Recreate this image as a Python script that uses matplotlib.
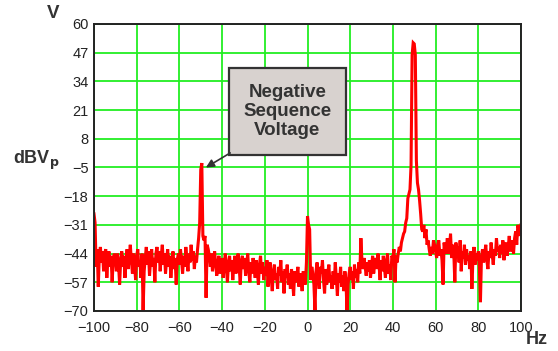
import numpy as np
import matplotlib
matplotlib.use("Agg")
import matplotlib.pyplot as plt
from matplotlib.patches import Rectangle

# Frequency axis: -100 .. 100 Hz in 0.5 Hz steps
freq_start, freq_stop, freq_step = -100.0, 100.0, 0.5

# Spectrum values (dBVp), 10 Hz per row
spectrum = [
    # -100 .. -90.5
    -26, -30, -50, -42, -59, -45, -41, -48, -43, -52, -44, -42, -55, -47, -43, -50, -45, -57, -47, -44,
    # -90 .. -80.5
    -46, -52, -44, -49, -58, -47, -43, -50, -45, -55, -48, -42, -51, -46, -40, -47, -53, -44, -49, -56,
    # -80 .. -70.5
    -45, -42, -50, -47, -55, -44, -70, -52, -46, -41, -49, -43, -54, -47, -42, -50, -46, -57, -44, -41,
    # -70 .. -60.5
    -48, -43, -52, -45, -40, -49, -44, -53, -47, -42, -50, -45, -55, -48, -43, -51, -46, -58, -47, -44,
    # -60 .. -50.5
    -49, -42, -47, -53, -45, -50, -41, -46, -52, -44, -48, -40, -47, -43, -51, -45, -48, -42, -37, -30,
    # -50 .. -40.5
    -6, -3, -36, -38, -36, -64, -40, -42, -45, -50, -44, -52, -47, -43, -49, -54, -48, -45, -53, -50,
    # -40 .. -30.5
    -46, -55, -49, -44, -51, -57, -48, -45, -52, -47, -56, -49, -45, -53, -48, -44, -50, -58, -47, -45,
    # -30 .. -20.5
    -51, -46, -54, -49, -44, -52, -57, -48, -53, -46, -50, -55, -47, -52, -58, -49, -45, -53, -48, -56,
    # -20 .. -10.5
    -50, -54, -47, -59, -51, -48, -55, -61, -52, -49, -56, -53, -60, -50, -54, -47, -57, -52, -62, -51,
    # -10 .. -0.5
    -55, -49, -58, -53, -60, -51, -56, -63, -52, -57, -54, -50, -59, -53, -56, -61, -52, -55, -58, -48,
    # 0 .. 9.5
    -27, -31, -33, -56, -50, -53, -58, -70, -52, -48, -55, -60, -50, -53, -47, -56, -62, -51, -58, -53,
    # 10 .. 19.5
    -49, -57, -54, -60, -52, -58, -48, -55, -63, -53, -57, -50, -59, -54, -61, -52, -56, -70, -58, -53,
    # 20 .. 29.5
    -50, -56, -52, -60, -49, -55, -51, -57, -48, -53, -37, -47, -51, -46, -50, -54, -48, -52, -47, -55,
    # 30 .. 39.5
    -50, -45, -53, -48, -46, -51, -44, -49, -56, -47, -52, -45, -50, -55, -47, -44, -53, -49, -56, -45,
    # 40 .. 49.5
    -46, -42, -57, -45, -48, -44, -41, -43, -39, -37, -35, -34, -30, -28, -19, -17, -15, -4, 46, 51.5,
    # 50 .. 59.5
    51, 46, -2, -12, -15, -20, -26, -33, -34, -31, -37, -33, -40, -38, -42, -45, -41, -44, -38, -40,
    # 60 .. 69.5
    -43, -46, -40, -38, -45, -42, -47, -58, -39, -44, -42, -37, -44, -41, -35, -46, -40, -43, -57, -39,
    # 70 .. 79.5
    -44, -41, -48, -38, -52, -43, -46, -40, -49, -42, -47, -45, -51, -43, -60, -46, -41, -49, -44, -47,
    # 80 .. 89.5
    -43, -50, -66, -45, -42, -48, -44, -40, -47, -51, -43, -46, -39, -44, -49, -42, -45, -37, -43, -41,
    # 90 .. 100
    -46, -40, -44, -38, -47, -42, -39, -45, -41, -36, -43, -40, -38, -44, -37, -34, -40, -31, -33, -36, -31,
]

freqs = np.arange(freq_start, freq_stop + freq_step / 2, freq_step)

x_ticks = [-100, -80, -60, -40, -20, 0, 20, 40, 60, 80, 100]
y_ticks = [60, 47, 34, 21, 8, -5, -18, -31, -44, -57, -70]

annotation_text = "Negative\nSequence\nVoltage"

fig = plt.figure(figsize=(5.58, 3.51), dpi=100)
ax = fig.add_axes([94 / 558, 1 - 311 / 351, (521 - 94) / 558, (311 - 24) / 351])

ax.plot(freqs, spectrum, color="#ff0000", lw=2.2, zorder=3, solid_joinstyle="miter")

ax.set_xlim(-100, 100)
ax.set_ylim(-70, 60)
ax.set_xticks(x_ticks)
ax.set_yticks(y_ticks)
ax.set_xticklabels([str(t).replace("-", "\u2212") for t in x_ticks])
ax.set_yticklabels([str(t).replace("-", "\u2212") for t in y_ticks])
ax.tick_params(length=0, labelsize=10.5, labelcolor="#222222")
ax.tick_params(axis="x", pad=7)
ax.tick_params(axis="y", pad=4)
for lab in ax.get_xticklabels() + ax.get_yticklabels():
    lab.set_fontfamily("Liberation Sans")

ax.grid(True, color="#22ee22", lw=1.3, zorder=1)
for s in ax.spines.values():
    s.set_color("#222222")
    s.set_linewidth(1.4)
    s.set_zorder(4)

# Axis labels
fig.text(53 / 558, 1 - 14 / 351, "V", ha="center", va="center",
         fontsize=13.5, fontweight="bold", color="#333333", family="Liberation Sans")
fig.text(13 / 558, 1 - 160 / 351, r"dBV$_{\mathbf{p}}$", ha="left", va="center",
         fontsize=13, fontweight="bold", color="#333333", family="Liberation Sans")
fig.text(537 / 558, 1 - 340 / 351, "Hz", ha="center", va="center",
         fontsize=13, fontweight="bold", color="#333333", family="Liberation Sans")

# Annotation box
box = Rectangle((-36.8, 0.7), 54.8, 39.5, facecolor="#d8d2cf", edgecolor="#333333",
                lw=1.6, zorder=5)
ax.add_patch(box)
ax.text(-9.4, 20.5, annotation_text, ha="center", va="center", fontsize=13.5,
        fontweight="bold", color="#333333", family="Liberation Sans",
        linespacing=1.15, zorder=6)
ax.annotate("", xy=(-47.6, -5.0), xytext=(-36.2, 1.6),
            arrowprops=dict(arrowstyle="-|>", color="#333333", lw=1.2,
                            mutation_scale=12, shrinkA=0, shrinkB=0), zorder=6)

fig.savefig("out.png", dpi=100, facecolor="white")
